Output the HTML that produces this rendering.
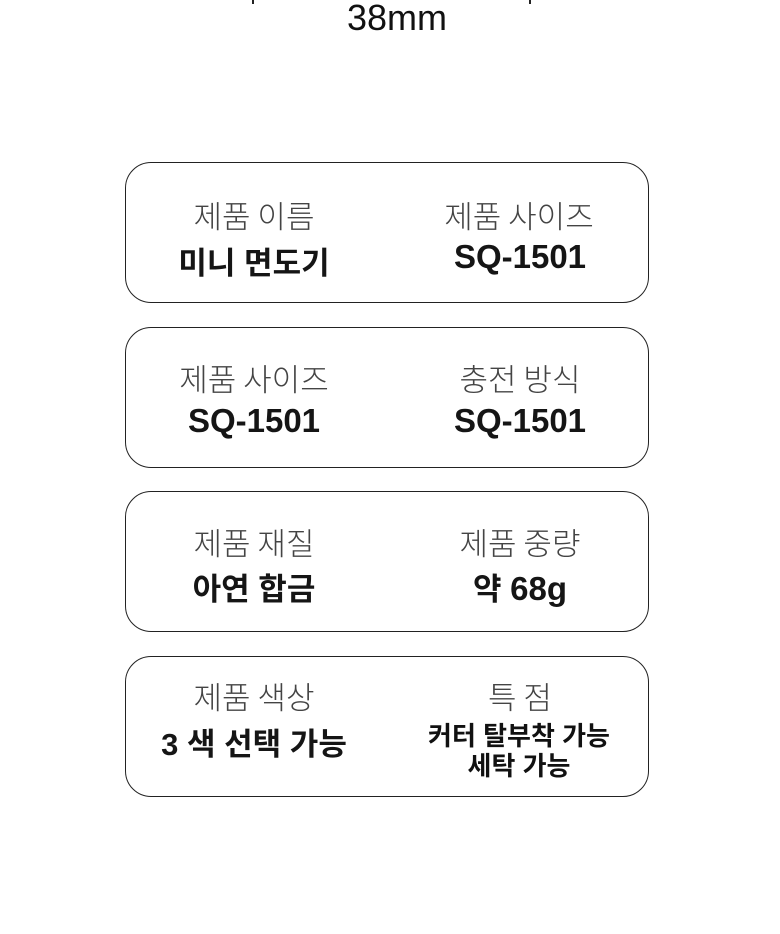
<!DOCTYPE html>
<html><head><meta charset="utf-8"><style>
body{margin:0;width:780px;height:934px;background:#fff;position:relative;overflow:hidden;font-family:"Liberation Sans","Noto Sans CJK KR",sans-serif;color:#111}
.t{position:absolute;text-align:center;white-space:nowrap;transform:translateX(-50%)}
.box{position:absolute;left:125px;width:524px;height:141px;border:1.5px solid #222;border-radius:26px;box-sizing:border-box}
.l{font-size:31px;font-weight:300;color:#444;font-family:"Noto Sans CJK KR",sans-serif}
.v{font-size:31px;font-weight:bold;color:#151515}
.e{font-size:33px}
.s{font-size:26px;font-weight:bold;line-height:30px}
</style></head><body>
<div style="position:absolute;left:252px;top:0;width:2px;height:4px;background:#222"></div>
<div style="position:absolute;left:529px;top:0;width:2px;height:4px;background:#222"></div>
<div class="t" style="left:397px;top:-3px;font-size:36px">38mm</div>

<div class="box" style="top:162px"></div>
<div class="box" style="top:327px"></div>
<div class="box" style="top:491px"></div>
<div class="box" style="top:656px"></div>

<div class="t l" style="left:254px;top:192px">제품 이름</div>
<div class="t v" style="left:254px;top:238px">미니 면도기</div>
<div class="t l" style="left:519px;top:192px">제품 사이즈</div>
<div class="t v e" style="left:520px;top:238px">SQ-1501</div>

<div class="t l" style="left:254px;top:355px">제품 사이즈</div>
<div class="t v e" style="left:254px;top:402px">SQ-1501</div>
<div class="t l" style="left:520px;top:355px">충전 방식</div>
<div class="t v e" style="left:520px;top:402px">SQ-1501</div>

<div class="t l" style="left:254px;top:519px">제품 재질</div>
<div class="t v" style="left:254px;top:564px">아연 합금</div>
<div class="t l" style="left:520px;top:519px">제품 중량</div>
<div class="t v" style="left:520px;top:564px">약 <span class="e">68g</span></div>

<div class="t l" style="left:254px;top:673px">제품 색상</div>
<div class="t v" style="left:254px;top:719px">3 색 선택 가능</div>
<div class="t l" style="left:520px;top:673px">특 점</div>
<div class="t s" style="left:519px;top:721px">커터 탈부착 가능<br>세탁 가능</div>
</body></html>
